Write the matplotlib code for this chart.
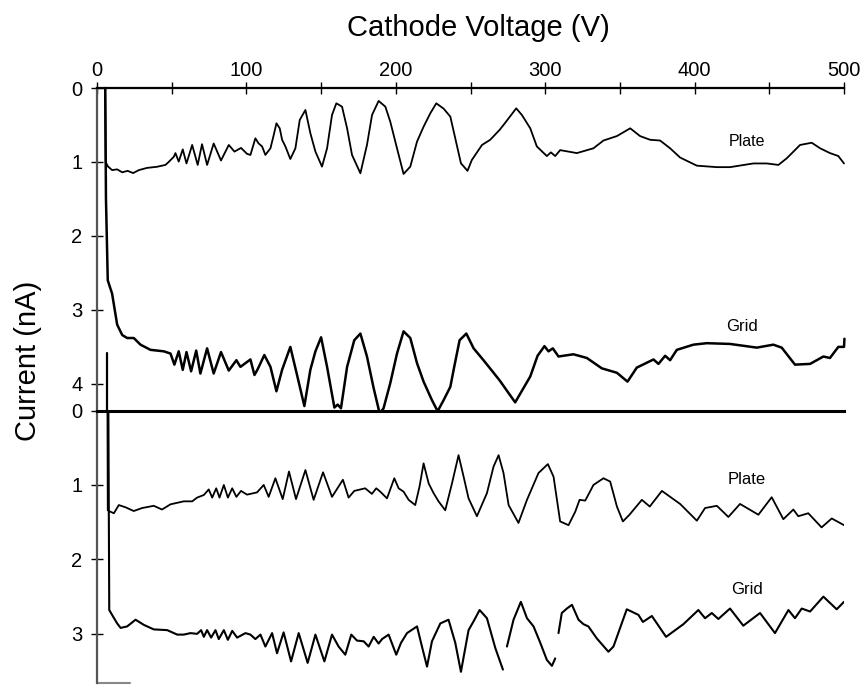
import numpy as np
import matplotlib.pyplot as plt

plt.rcParams['font.family'] = ['Liberation Sans', 'DejaVu Sans']
plt.rcParams['lines.solid_joinstyle'] = 'round'
plt.rcParams['lines.solid_capstyle'] = 'round'

# ---- upper panel, plate current (nA) vs cathode voltage (V)
up_plate_v = [5.5, 5.8, 7.3, 10.1, 13.5, 16.9, 20.5, 24.2, 28.0, 33.5, 40.2, 45.8, 48.0,
              51.4, 52.5, 54.7, 57.4, 59.9, 63.7, 67.4, 70.3, 73.7, 78.1, 83.0, 88.2, 92.0,
              96.4, 100.4, 102.7, 106.0, 108.2, 110.5, 112.7, 116.1, 118.3, 120.1, 122.3,
              123.9, 126.1, 129.4, 132.8, 135.7, 139.5, 142.8, 146.2, 150.6, 154.0, 157.3,
              160.2, 164.0, 167.4, 170.7, 176.3, 180.7, 184.1, 188.5, 193.0, 196.3, 200.8,
              205.2, 209.7, 214.2, 218.6, 223.1, 227.1, 232.0, 236.5, 239.8, 243.6, 248.0,
              250.9, 257.7, 263.2, 269.4, 272.1, 280.6, 284.4, 290.0, 294.4, 301.1, 303.8,
              306.7, 310.0, 321.2, 332.3, 339.0, 348.0, 356.9, 363.5, 370.2, 376.9, 383.6,
              390.3, 401.5, 414.9, 423.7, 439.3, 448.3, 456.1, 461.7, 470.6, 478.4, 484.0,
              490.6, 496.2, 500.0]
up_plate_i = [0.0, 1.0, 1.06, 1.11, 1.10, 1.14, 1.12, 1.15, 1.11, 1.08, 1.065, 1.04, 1.0,
              0.93, 0.88, 0.995, 0.83, 1.02, 0.77, 1.04, 0.76, 1.04, 0.75, 0.98, 0.77, 0.86,
              0.81, 0.89, 0.905, 0.68, 0.75, 0.79, 0.905, 0.815, 0.635, 0.477, 0.545,
              0.70, 0.79, 0.96, 0.815, 0.432, 0.297, 0.61, 0.86, 1.063, 0.815, 0.365,
              0.207, 0.252, 0.545, 0.905, 1.153, 0.77, 0.365, 0.175, 0.252, 0.455, 0.815,
              1.162, 1.063, 0.725, 0.523, 0.342, 0.207, 0.279, 0.387, 0.68, 1.018, 1.12,
              0.973, 0.77, 0.70, 0.568, 0.50, 0.275, 0.365, 0.545, 0.79, 0.92, 0.87,
              0.92, 0.84, 0.88, 0.815, 0.71, 0.65, 0.545, 0.65, 0.70, 0.71, 0.815,
              0.94, 1.05, 1.07, 1.07, 1.02, 1.02, 1.04, 0.95, 0.77, 0.74, 0.815,
              0.88, 0.92, 1.02]

# ---- upper panel, grid current
up_grid_v = [5.5, 6.0, 7.2, 10.1, 13.5, 16.9, 20.2, 24.6, 29.1, 35.8, 44.7, 49.2,
             51.8, 54.7, 57.4, 59.9, 63.0, 66.4, 69.2, 73.7, 78.1, 83.0, 88.2, 93.3, 96.0,
             102.7, 105.4, 107.6, 112.0, 116.1, 120.1, 123.9, 129.4, 133.9, 138.8, 142.8,
             146.2, 150.0, 154.0, 158.9, 161.1, 163.3, 167.4, 172.2, 176.3, 180.7, 185.2,
             189.2, 191.8, 196.3, 200.8, 205.2, 209.7, 214.2, 218.6, 224.2, 228.0, 232.0,
             236.5, 239.1, 242.7, 247.2, 252.1, 258.7, 269.4, 279.9, 290.0, 294.9, 299.5,
             302.2, 305.1, 308.9, 318.9, 327.9, 337.9, 348.0, 355.1, 361.3, 372.5, 375.8,
             380.3, 383.6, 388.1, 399.2, 408.1, 423.7, 441.6, 452.7, 458.3, 467.2, 477.3,
             486.2, 490.6, 496.2, 500.0, 500.3]
up_grid_i = [0.0, 1.5, 2.6, 2.78, 3.20, 3.34, 3.38, 3.38, 3.47, 3.54, 3.56, 3.59,
             3.74, 3.56, 3.81, 3.57, 3.83, 3.55, 3.86, 3.52, 3.86, 3.57, 3.82, 3.68, 3.77,
             3.67, 3.88, 3.80, 3.61, 3.77, 4.10, 3.81, 3.50, 3.88, 4.30, 3.81,
             3.56, 3.37, 3.77, 4.32, 4.28, 4.33, 3.77, 3.41, 3.32, 3.63, 4.06,
             4.40, 4.33, 3.99, 3.59, 3.29, 3.38, 3.72, 3.97, 4.22, 4.37, 4.22,
             4.04, 3.77, 3.41, 3.32, 3.52, 3.68, 3.95, 4.25, 3.90, 3.62, 3.49,
             3.56, 3.52, 3.63, 3.60, 3.65, 3.79, 3.85, 3.97, 3.78, 3.67, 3.73,
             3.62, 3.68, 3.54, 3.47, 3.45, 3.46, 3.51, 3.47, 3.51, 3.74, 3.73,
             3.63, 3.65, 3.50, 3.50, 3.39]

# ---- lower panel, plate current
lo_plate_v = [7.0, 7.2, 9.0, 11.3, 14.6, 19.1, 24.6, 30.2, 38.0, 43.5, 49.2, 58.1, 63.7,
              67.0, 71.5, 74.8, 77.1, 79.8, 82.0, 84.9, 87.6, 90.5, 93.3, 96.4, 100.4,
              107.1, 111.6, 114.9, 119.4, 124.3, 128.5, 133.2, 139.5, 145.0, 151.3, 157.3,
              164.6, 168.4, 172.2, 179.5, 184.0, 186.9, 189.6, 194.1, 199.0, 201.9, 205.2,
              208.6, 213.0, 215.9, 218.6, 222.0, 225.3, 228.6, 233.1, 237.6, 242.0, 245.4,
              248.7, 254.3, 261.0, 265.4, 268.8, 272.1, 275.5, 282.1, 287.8, 295.5, 301.8,
              305.6, 310.0, 315.6, 320.1, 323.0, 326.8, 332.3, 339.0, 343.5, 348.0, 352.0,
              356.4, 364.7, 370.0, 378.1, 390.3, 401.5, 407.0, 414.9, 422.6, 430.4, 442.7,
              451.6, 459.4, 466.1, 469.4, 476.1, 485.0, 491.8, 500.0]
lo_plate_i = [0.0, 1.34, 1.36, 1.38, 1.27, 1.30, 1.35, 1.31, 1.28, 1.33, 1.26, 1.22, 1.22,
              1.17, 1.135, 1.06, 1.17, 1.045, 1.17, 1.0, 1.17, 1.045, 1.16, 1.08, 1.13,
              1.10, 1.0, 1.16, 0.91, 1.19, 0.82, 1.19, 0.80, 1.20, 0.83, 1.16,
              0.93, 1.17, 1.08, 1.045, 1.12, 1.045, 1.09, 1.18, 0.91, 1.045, 1.09,
              1.20, 1.27, 1.02, 0.71, 0.98, 1.11, 1.22, 1.34, 0.98, 0.60, 0.89,
              1.18, 1.42, 1.11, 0.755, 0.60, 0.84, 1.27, 1.51, 1.20, 0.84, 0.72,
              0.89, 1.49, 1.54, 1.36, 1.20, 1.21, 1.00, 0.91, 0.955, 1.29, 1.49,
              1.40, 1.20, 1.29, 1.08, 1.255, 1.48, 1.31, 1.28, 1.43, 1.255, 1.40,
              1.165, 1.46, 1.33, 1.42, 1.38, 1.57, 1.45, 1.54]

# ---- lower panel, grid current (nan = gaps in trace)
lo_grid_v = [7.6, 8.2, 10.1, 13.5, 15.8, 20.2, 25.8, 31.4, 38.0, 47.0, 53.7, 58.1, 62.6,
             67.0, 69.7, 71.5, 73.7, 76.4, 79.3, 81.5, 84.9, 87.6, 90.5, 93.8, 99.4,
             102.7, 106.0, 109.4, 112.7, 117.2, 120.5, 124.9, 129.9, 135.0, 141.0, 146.2,
             152.2, 157.3, 161.7, 166.2, 170.2, 174.0, 178.5, 181.8, 185.2, 188.5, 190.8,
             195.2, 200.3, 203.5, 207.5, 214.2, 217.5, 220.9, 224.2, 229.8, 235.3, 239.8,
             243.6, 248.7, 252.1, 256.1, 261.0, 266.6, 271.7, 272.5, 274.4, 278.8, 283.7,
             287.8, 292.2, 296.7, 301.1, 304.5, 306.7, 307.8, 308.9, 311.1, 314.5, 317.9,
             322.3, 325.6, 328.9, 334.5, 342.3, 345.7, 354.6, 362.4, 365.4, 371.4, 380.9,
             392.5, 402.5, 407.0, 411.5, 415.9, 423.7, 432.6, 443.8, 453.8, 462.8, 467.2,
             471.7, 477.3, 486.2, 495.1, 500.0]
lo_grid_i = [0.0, 2.68, 2.745, 2.86, 2.92, 2.90, 2.81, 2.88, 2.94, 2.95, 3.01, 3.01, 2.99,
             3.0, 2.95, 3.04, 2.95, 3.05, 2.95, 3.07, 2.95, 3.08, 2.96, 3.05, 2.99,
             3.01, 3.07, 3.01, 3.17, 2.99, 3.26, 2.98, 3.37, 2.99, 3.39, 3.01,
             3.37, 3.01, 3.17, 3.28, 3.01, 3.09, 3.10, 3.17, 3.04, 3.13, 3.07,
             3.01, 3.28, 3.12, 2.99, 2.90, 3.17, 3.44, 3.10, 2.86, 2.81, 3.12,
             3.51, 2.95, 2.83, 2.68, 2.79, 3.19, 3.48, np.nan, 3.17, 2.81, 2.57,
             2.79, 2.90, 3.12, 3.35, 3.43, 3.33, np.nan, 2.99, 2.72, 2.66, 2.61,
             2.81, 2.87, 2.90, 3.06, 3.24, 3.17, 2.67, 2.745, 2.84, 2.76, 3.04,
             2.87, 2.68, 2.79, 2.72, 2.80, 2.66, 2.89, 2.72, 2.99, 2.68, 2.79,
             2.66, 2.70, 2.50, 2.67, 2.57]

x_ticks = [0, 100, 200, 300, 400, 500]
up_yticks = [0, 1, 2, 3, 4]
lo_yticks = [0, 1, 2, 3]

fig = plt.figure(figsize=(8.63, 6.89), dpi=100)
left, width = 97 / 863, 747 / 863
ax1 = fig.add_axes([left, 1 - 410.5 / 689, width, (410.5 - 88) / 689])
ax2 = fig.add_axes([left, 1 - 683 / 689, width, (683 - 410.5) / 689])

ax1.plot(up_plate_v, up_plate_i, color='black', lw=1.3, clip_on=False)
ax1.plot(up_grid_v, up_grid_i, color='black', lw=1.8, clip_on=False)
ax1.plot([6.5, 6.5], [3.58, 4.36], color='black', lw=1.6)
ax2.plot(lo_plate_v, lo_plate_i, color='black', lw=1.3)
ax2.plot(lo_grid_v, lo_grid_i, color='black', lw=1.5)

ax1.set_xlim(0, 500)
ax2.set_xlim(0, 500)
ax1.set_ylim(4.36, 0)
ax2.set_ylim(3.66, 0)

for ax in (ax1, ax2):
    ax.spines['right'].set_visible(False)
    ax.spines['bottom'].set_visible(False)
    ax.spines['left'].set_color('#555555')
    ax.spines['left'].set_linewidth(1.6)
    ax.tick_params(axis='y', direction='inout', length=9, width=1, labelsize=14.5, pad=6)

ax1.spines['top'].set_linewidth(1.6)
ax2.spines['top'].set_linewidth(2.2)
ax1.xaxis.tick_top()
ax1.set_xticks(x_ticks)
ax1.set_xticks(np.arange(50, 500, 100), minor=True)
ax1.tick_params(axis='x', which='both', direction='inout', length=9, width=1, labelsize=14.5, pad=1)
ax2.set_xticks([])
ax1.set_yticks(up_yticks)
ax2.set_yticks(lo_yticks)

# short bottom baseline
ax2.plot([0, 22], [3.66, 3.66], color='#888888', lw=1.5, clip_on=False)

ax1.text(435, 0.72, 'Plate', fontsize=11.5, ha='center', va='center')
ax1.text(432, 3.22, 'Grid', fontsize=12, ha='center', va='center')
ax2.text(435, 0.93, 'Plate', fontsize=12, ha='center', va='center')
ax2.text(435, 2.41, 'Grid', fontsize=12, ha='center', va='center')

fig.text(478 / 863, 1 - 28 / 689, 'Cathode Voltage (V)', fontsize=21, ha='center', va='center')
fig.text(28 / 863, 1 - 361 / 689, 'Current (nA)', fontsize=21, rotation=90, ha='center', va='center')

fig.savefig('out.png', dpi=100)
